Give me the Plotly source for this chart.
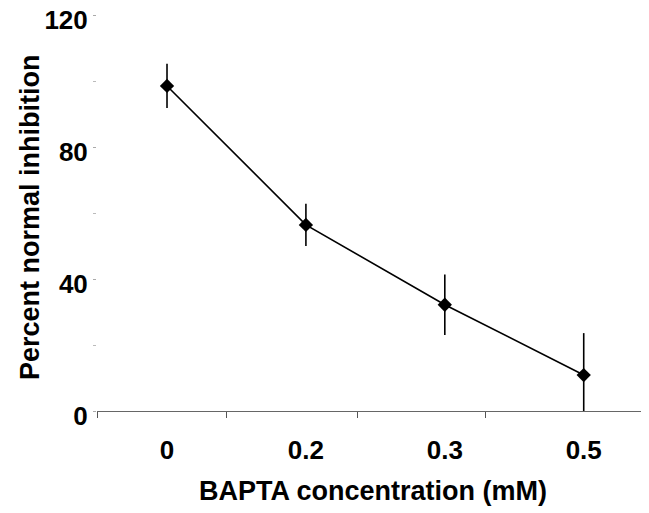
import plotly.graph_objects as go

categories = ["0", "0.2", "0.3", "0.5"]
positions = [0, 1, 2, 3]
mean_inhibition = [98.5, 56.4, 32.2, 10.9]
error_sd = [6.7, 6.4, 9.2, 12.7]
y_tick_values = [0, 40, 80, 120]

fig = go.Figure()
fig.add_trace(go.Scatter(
    x=positions,
    y=mean_inhibition,
    mode="lines+markers",
    line=dict(color="black", width=1.6),
    marker=dict(symbol="diamond", size=11, color="black"),
    error_y=dict(type="data", array=error_sd, visible=True,
                 color="black", thickness=1.6, width=0),
    showlegend=False,
))

font_family = "Liberation Sans, Arial, sans-serif"

# page body has an 8px margin, so the figure is offset by 8px
fig.update_layout(
    width=641, height=505,
    margin=dict(l=89, r=0, t=7, b=102),
    paper_bgcolor="white", plot_bgcolor="white",
    font=dict(family=font_family, color="black"),
)
fig.update_xaxes(
    automargin=False,
    range=[-0.504, 3.47],
    tickvals=positions,
    ticktext=["<b>%s</b>" % c for c in categories],
    tickfont=dict(size=26, family=font_family),
    ticks="",
    ticklabelstandoff=16,
    ticklabeloverflow="allow",
    showgrid=False, zeroline=False,
    showline=True, linecolor="#666666", linewidth=1.2,
    minor=dict(tickmode="array", tickvals=[-0.5, 0.43, 1.37, 2.29],
               ticks="outside", ticklen=6, tickcolor="#555555", tickwidth=1),
    title=dict(text="<b>BAPTA concentration (mM)</b>",
               font=dict(size=27, family=font_family), standoff=16),
)
fig.update_yaxes(
    automargin=False,
    range=[0, 120],
    tickvals=y_tick_values,
    ticktext=["<b>%d</b>" % v for v in y_tick_values],
    tickfont=dict(size=26, family=font_family),
    ticklabeloverflow="allow",
    ticklabelshift=5,
    ticks="outside", ticklen=3, tickcolor="#aaaaaa", tickwidth=1,
    minor=dict(dtick=20, ticks="outside", ticklen=3, tickcolor="#bbbbbb", tickwidth=1),
    showgrid=False, zeroline=False, showline=False,
)
fig.add_annotation(
    text="<b>Percent normal inhibition</b>",
    xref="paper", yref="paper", x=0, y=0.5,
    xanchor="center", yanchor="middle",
    xshift=-67, yshift=-4, textangle=-90, showarrow=False,
    font=dict(size=27, family=font_family, color="black"),
)

fig.write_html("out.html")
